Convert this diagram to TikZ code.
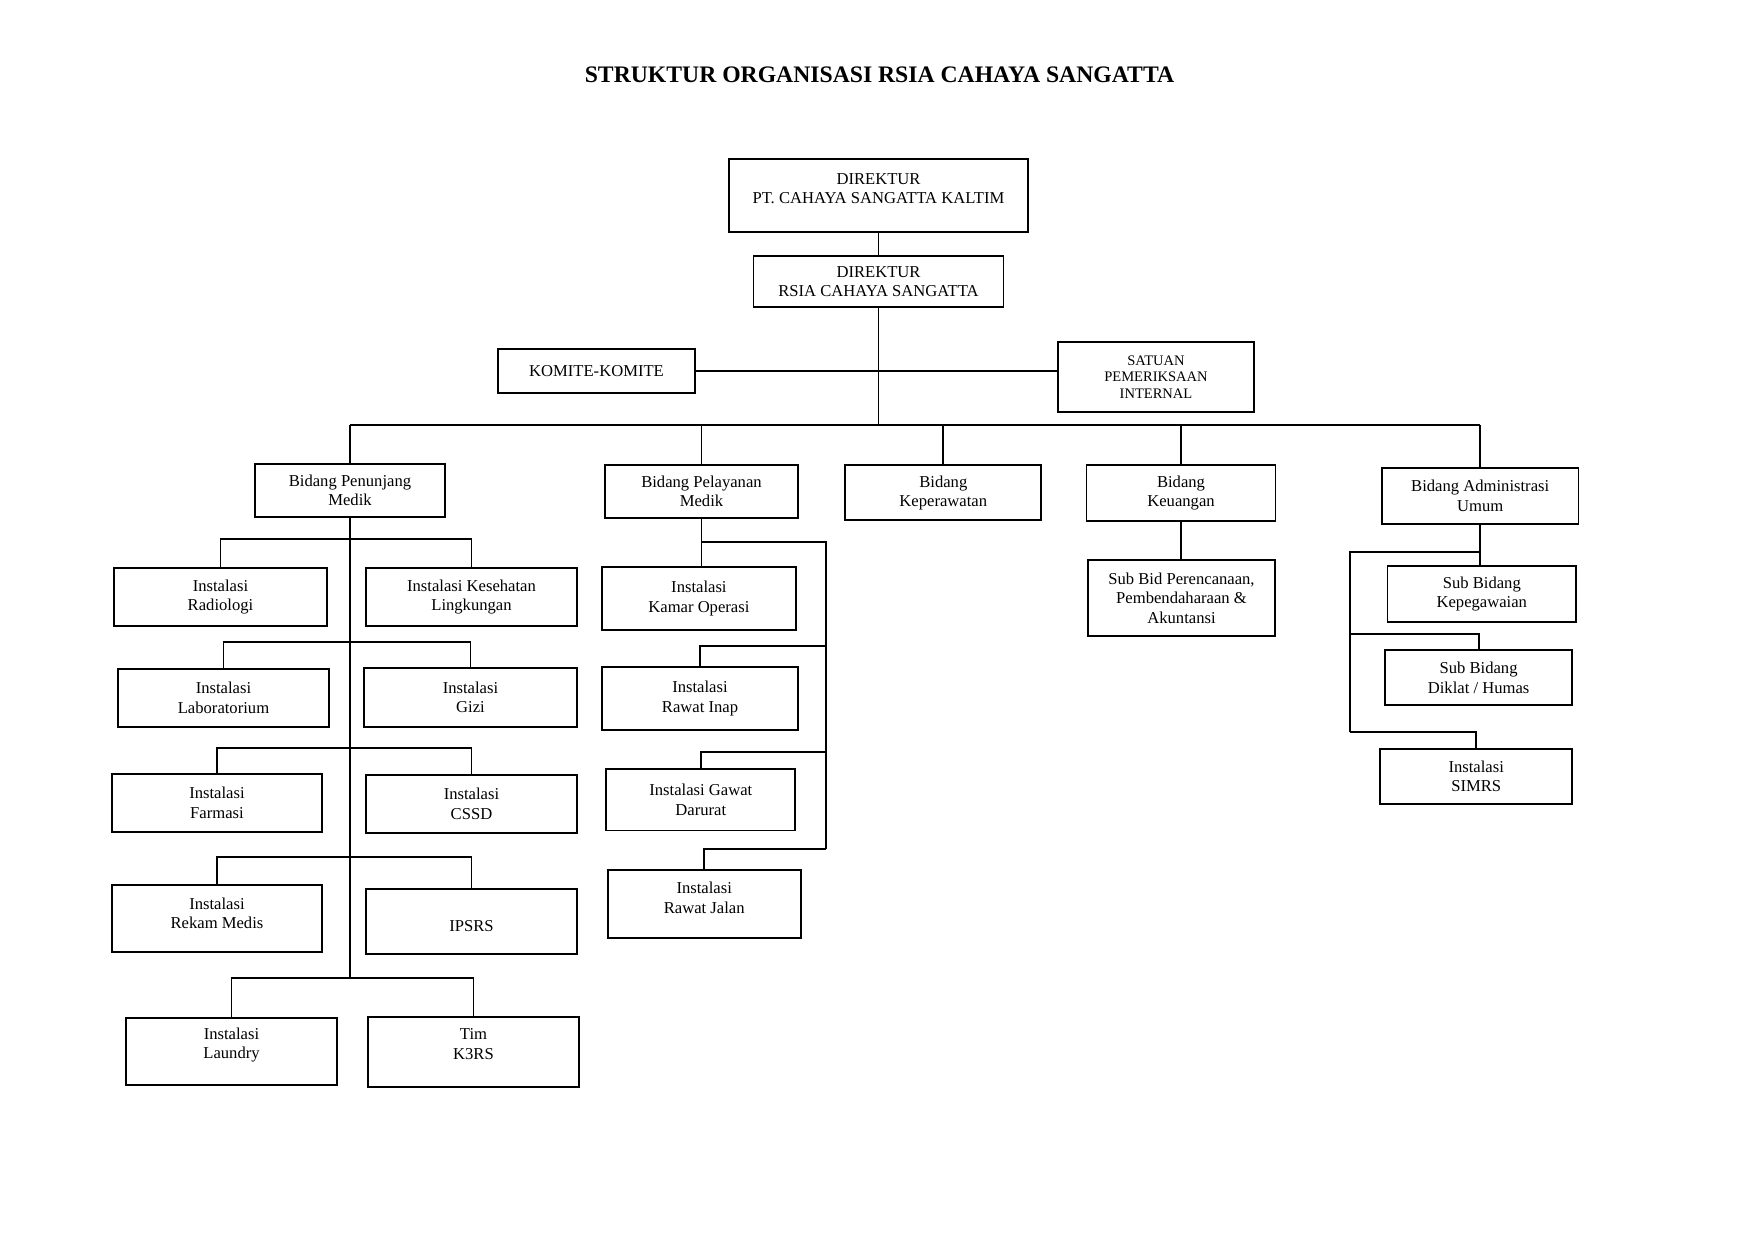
\documentclass[tikz,border=0pt]{standalone}
\usepackage{fontspec}
\setmainfont{Liberation Serif}
\newlength\px
\setlength\px{0.16923mm}
\begin{document}
\begin{tikzpicture}[x=0.16923mm,y=-0.16923mm,
  kotak/.style={draw, line width=0.9pt, inner sep=0pt, align=center, font=\fontsize{8}{9.4}\selectfont},
  garis/.style={line width=0.9pt}]
\useasboundingbox (0,0) rectangle (1755,1241);

% Judul
\node[font=\fontsize{11.4}{13}\selectfont\bfseries, anchor=base] (judul) at (879.5,82) {STRUKTUR ORGANISASI RSIA CAHAYA SANGATTA};

% Direktur
\node[kotak, minimum width=299\px, minimum height=73\px] (dirpt) at (878.5,195.5) {DIREKTUR\\PT. CAHAYA SANGATTA KALTIM\\[-2.7pt]\mbox{}};
\node[kotak, minimum width=250\px, minimum height=51\px] (dirrs) at (878.5,281.5) {DIREKTUR\\RSIA CAHAYA SANGATTA};
\node[kotak, minimum width=197\px, minimum height=44\px] (komite) at (596.5,371) {KOMITE-KOMITE};
\node[kotak, minimum width=196\px, minimum height=70\px, font=\fontsize{7}{8}\selectfont] (satuan) at (1156,377) {SATUAN\\PEMERIKSAAN\\INTERNAL};

% Bidang
\node[kotak, minimum width=190\px, minimum height=53\px] (penunjang) at (350,490.5) {Bidang Penunjang\\Medik};
\node[kotak, minimum width=193\px, minimum height=53.6\px] (pelayanan) at (701.5,491.5) {Bidang Pelayanan\\Medik};
\node[kotak, minimum width=196\px, minimum height=55\px] (keperawatan) at (943.3,492.9) {Bidang\\Keperawatan};
\node[kotak, minimum width=189\px, minimum height=56.3\px] (keuangan) at (1181,492.9) {Bidang\\Keuangan};
\node[kotak, minimum width=196.6\px, minimum height=56.3\px] (admin) at (1480.2,495.9) {Bidang Administrasi\\Umum};

% Penunjang Medik
\node[kotak, minimum width=213\px, minimum height=58\px] (radiologi) at (220.5,597) {Instalasi\\Radiologi};
\node[kotak, minimum width=211\px, minimum height=58\px] (kesling) at (471.5,597) {Instalasi Kesehatan\\Lingkungan};
\node[kotak, minimum width=211\px, minimum height=58\px] (lab) at (223.5,698) {Instalasi\\Laboratorium};
\node[kotak, minimum width=213\px, minimum height=59\px] (gizi) at (470.5,697.5) {Instalasi\\Gizi};
\node[kotak, minimum width=210\px, minimum height=58\px] (farmasi) at (217,803) {Instalasi\\Farmasi};
\node[kotak, minimum width=211\px, minimum height=58\px] (cssd) at (471.5,804) {Instalasi\\CSSD};
\node[kotak, minimum width=210\px, minimum height=67\px] (rekam) at (217,918.5) {Instalasi\\Rekam Medis\\[-4.1pt]\mbox{}};
\node[kotak, minimum width=211\px, minimum height=65\px] (ipsrs) at (471.5,921.5) {\mbox{}\\[0.7pt]IPSRS};
\node[kotak, minimum width=211\px, minimum height=67\px] (laundry) at (231.5,1051.5) {Instalasi\\Laundry\\[-1.6pt]\mbox{}};
\node[kotak, minimum width=211\px, minimum height=70\px] (k3rs) at (473.5,1052) {Tim\\K3RS\\[-1.7pt]\mbox{}};

% Pelayanan Medik
\node[kotak, minimum width=194\px, minimum height=62.7\px] (kamar) at (698.9,598.5) {Instalasi\\Kamar Operasi};
\node[kotak, minimum width=196\px, minimum height=63\px] (inap) at (700,698.6) {Instalasi\\Rawat Inap};
\node[kotak, minimum width=189\px, minimum height=61.6\px] (gawat) at (700.8,799.7) {Instalasi Gawat\\Darurat};
\node[kotak, minimum width=193\px, minimum height=67.8\px] (jalan) at (704.2,903.9) {Instalasi\\Rawat Jalan\\[-3.6pt]\mbox{}};

% Keuangan
\node[kotak, minimum width=187.6\px, minimum height=75.4\px] (subbid) at (1181.5,598) {Sub Bid Perencanaan,\\Pembendaharaan \&\\Akuntansi};

% Administrasi Umum
\node[kotak, minimum width=188.7\px, minimum height=56.6\px] (kepeg) at (1481.8,594) {Sub Bidang\\Kepegawaian};
\node[kotak, minimum width=187.2\px, minimum height=55.3\px] (diklat) at (1478.6,677.7) {Sub Bidang\\Diklat / Humas};
\node[kotak, minimum width=192\px, minimum height=55\px] (simrs) at (1476.2,776.5) {Instalasi\\SIMRS};

% Garis atas
\coordinate (bar) at (878.5,425);
\draw[garis] (dirpt) -- (dirrs);
\draw[garis] (dirrs.south) -- (bar);
\draw[garis] (komite.east) -- (satuan.west |- komite.east);
\draw[garis] (penunjang.north |- bar) -- (admin.north |- bar);
\foreach \b in {penunjang,pelayanan,keperawatan,keuangan,admin}
  \draw[garis] (\b.north |- bar) -- (\b.north);

% Garis penunjang
\draw[garis] (penunjang.south) -- (penunjang.south |- 0,978);
\foreach \ki/\ka/\yy in {radiologi/kesling/539, lab/gizi/642, farmasi/cssd/748, rekam/ipsrs/857, laundry/k3rs/978}
  \draw[garis] (\ki.north) -- (\ki.north |- 0,\yy) -- (\ka.north |- 0,\yy) -- (\ka.north);

% Garis pelayanan
\coordinate (spine) at (826,542.2);
\draw[garis] (pelayanan.south) -- (pelayanan.south |- kamar.north);
\draw[garis] (pelayanan.south |- spine) -- (spine) -- (spine |- 0,849.2);
\foreach \n/\yy in {inap/645.7, gawat/751.6, jalan/849.2}
  \draw[garis] (\n.north) -- (\n.north |- 0,\yy) -- (spine |- 0,\yy);

% Garis keuangan
\draw[garis] (keuangan.south) -- (keuangan.south |- subbid.north);

% Garis administrasi
\coordinate (spineadm) at (1350.4,551.7);
\draw[garis] (admin.south) -- (admin.south |- kepeg.north);
\draw[garis] (admin.south |- spineadm) -- (spineadm) -- (spineadm |- 0,731.7);
\foreach \n/\yy in {diklat/634.3, simrs/731.7}
  \draw[garis] (\n.north) -- (\n.north |- 0,\yy) -- (spineadm |- 0,\yy);

\end{tikzpicture}
\end{document}
